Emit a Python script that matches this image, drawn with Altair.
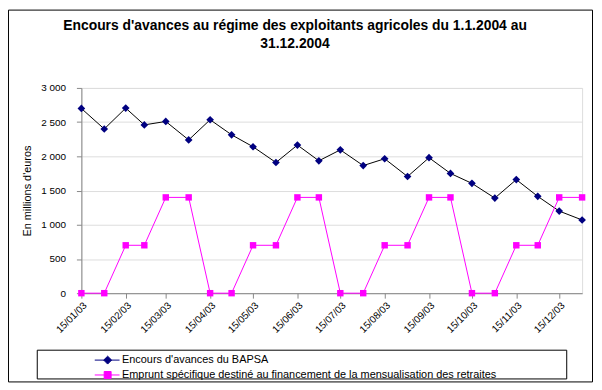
import altair as alt
import pandas as pd

# ---- data ----
dates = [
    "2003-01-15", "2003-01-31", "2003-02-15", "2003-02-28", "2003-03-15", "2003-03-31",
    "2003-04-15", "2003-04-30", "2003-05-15", "2003-05-31", "2003-06-15", "2003-06-30",
    "2003-07-15", "2003-07-31", "2003-08-15", "2003-08-31", "2003-09-15", "2003-09-30",
    "2003-10-15", "2003-10-31", "2003-11-15", "2003-11-30", "2003-12-15", "2003-12-31",
]
bapsa = [2700, 2400, 2705, 2460, 2510, 2240, 2535, 2315, 2140, 1910, 2165, 1935,
         2095, 1865, 1965, 1705, 1980, 1750, 1605, 1390, 1660, 1415, 1200, 1070]
emprunt = [0, 0, 700, 700, 1400, 1400, 0, 0, 700, 700, 1400, 1400,
           0, 0, 700, 700, 1400, 1400, 0, 0, 700, 700, 1400, 1400]
series_names = ["Encours d'avances du BAPSA",
                "Emprunt spécifique destiné au financement de la mensualisation des retraites"]
tick_dates = ["2003-%02d-15" % m for m in range(1, 13)]
y_ticks = [0, 500, 1000, 1500, 2000, 2500, 3000]

rows = []
for d, a, b in zip(dates, bapsa, emprunt):
    rows.append({"date": d, "value": a, "serie": series_names[0]})
    rows.append({"date": d, "value": b, "serie": series_names[1]})
df = pd.DataFrame(rows)

tick_ms = [int(pd.Timestamp(t, tz="UTC").value // 10**6) for t in tick_dates]
dom = [int(pd.Timestamp(dates[0], tz="UTC").value // 10**6),
       int(pd.Timestamp(dates[-1], tz="UTC").value // 10**6)]

FONT = "Liberation Sans"
NAVY = "#000080"
PINK = "#FF00FF"

x = alt.X("date:T", title=None,
          scale=alt.Scale(type="utc", domain=dom, nice=False),
          axis=alt.Axis(values=tick_ms, labelExpr="utcFormat(datum.value, '%d/%m/%y')",
                        labelAngle=-45, labelAlign="right", labelBaseline="top",
                        labelPadding=2, tickSize=5, grid=False, labelFlush=False,
                        labelOverlap=False))
y = alt.Y("value:Q", title="En millions d'euros",
          scale=alt.Scale(domain=[0, 3000], nice=False),
          axis=alt.Axis(values=y_ticks, labelExpr="replace(format(datum.value, ','), ',', ' ')",
                        tickSize=5, labelPadding=11, titlePadding=8, grid=True,
                        titleFontWeight="normal", titleFont=FONT, titleFontSize=11))

base = alt.Chart(df).encode(x=x, y=y)
sA = alt.datum.serie == series_names[0]
sB = alt.datum.serie == series_names[1]

lineA = base.transform_filter(sA).mark_line(color="black", strokeWidth=1)
ptsA = base.transform_filter(sA).mark_point(shape="diamond", filled=True, color=NAVY, size=60, opacity=1)
lineB = base.transform_filter(sB).mark_line(color=PINK, strokeWidth=1)
ptsB = base.transform_filter(sB).mark_point(shape="square", filled=True, color=PINK, size=42, opacity=1)

leg = alt.Legend(title=None, orient="none", legendX=13, legendY=269, direction="vertical",
                 labelFont=FONT, labelFontSize=11, labelColor="black", labelLimit=600,
                 symbolSize=100, symbolStrokeWidth=1, symbolOpacity=1, labelOffset=17,
                 rowPadding=2, padding=0)
paths = ["M-1,0H4M1.6,-0.8L2.4,0L1.6,0.8L0.8,0Z",
         "M-1,0H4M0.9,-0.7H2.3V0.7H0.9Z"]
legend_layer = base.mark_point(filled=True, opacity=0, strokeWidth=1).encode(
    color=alt.Color("serie:N", scale=alt.Scale(domain=series_names, range=[NAVY, PINK]), legend=leg),
    stroke=alt.Stroke("serie:N", scale=alt.Scale(domain=series_names, range=[NAVY, PINK]), legend=leg),
    shape=alt.Shape("serie:N", scale=alt.Scale(domain=series_names, range=paths), legend=leg),
)

frame_data = alt.Data(values=[{"k": 1}])
outer = alt.Chart(frame_data).mark_rect(fillOpacity=0, stroke="black", strokeWidth=1).encode(
    x=alt.value(-73.5), x2=alt.value(515.5), y=alt.value(-78.5), y2=alt.value(296.5))
legbox = alt.Chart(frame_data).mark_rect(fillOpacity=0, stroke="black", strokeWidth=1).encode(
    x=alt.value(-44.5), x2=alt.value(489.5), y=alt.value(264.5), y2=alt.value(293.5))

chart = alt.layer(outer, legbox, lineA, lineB, ptsA, ptsB, legend_layer).properties(
    width=505, height=207,
    title=alt.TitleParams(
        ["Encours d'avances au régime des exploitants agricoles du 1.1.2004 au", "31.12.2004"],
        font=FONT, fontSize=14, fontWeight="bold", color="black", anchor="middle",
        frame="group", dx=-37, dy=78, offset=36, lineHeight=18),
    padding={"left": 74, "top": 79, "right": 12, "bottom": 92},
    autosize=alt.AutoSizeParams(type="none"),
).configure_view(stroke="black", strokeWidth=1).configure_axis(
    labelFont=FONT, labelFontSize=11, labelColor="black", titleFont=FONT, titleFontSize=11,
    titleColor="black", titleFontWeight="normal", domainColor="black", tickColor="black",
    gridColor="black", gridWidth=1, domainWidth=1, tickWidth=1
).configure(background="white")

chart.save("out.html", embed_options={"renderer": "svg", "actions": False})
